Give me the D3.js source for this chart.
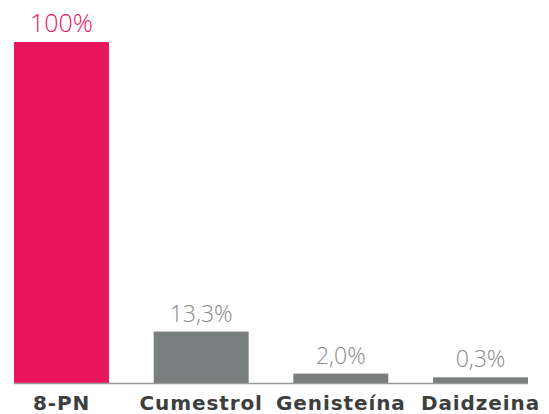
<!DOCTYPE html>
<html>
<head>
<meta charset="utf-8">
<script src="https://cdn.jsdelivr.net/npm/d3@7"></script>
<style>
  html, body { margin: 0; padding: 0; background: #ffffff; }
  svg { display: block; }
</style>
</head>
<body>
<svg id="chart" width="549" height="414"></svg>
<script>
// Categories shown under the bars
const categories = ["8-PN", "Cumestrol", "Genisteína", "Daidzeina"];
// Bar heights as drawn in the picture (relative to 8-PN = 100)
const barValues = [100, 15.2, 2.9, 1.8];
// Value labels printed above the bars
const valueLabels = ["100%", "13,3%", "2,0%", "0,3%"];
// Colours per bar
const barColors = ["#e8175d", "#7b7e7e", "#7b7e7e", "#7b7e7e"];
const labelColors = ["#e8175d", "#8a8a8a", "#8a8a8a", "#8a8a8a"];

const svg = d3.select("#chart");
const baseY = 383.5;

const x = d3.scaleBand()
  .domain(categories)
  .range([14, 528])
  .paddingInner(0.32)
  .paddingOuter(0);

const y = d3.scaleLinear()
  .domain([0, 100])
  .range([baseY, 42]);

// bars
svg.selectAll("rect.bar")
  .data(categories)
  .join("rect")
  .attr("class", "bar")
  .attr("x", d => x(d))
  .attr("width", x.bandwidth())
  .attr("y", (d, i) => y(barValues[i]))
  .attr("height", (d, i) => baseY - y(barValues[i]))
  .attr("fill", (d, i) => barColors[i]);

// baseline
svg.append("line")
  .attr("x1", x.range()[0])
  .attr("x2", x.range()[1])
  .attr("y1", baseY)
  .attr("y2", baseY)
  .attr("stroke", "#9a9a9a")
  .attr("stroke-width", 1.6);

// value labels
svg.selectAll("text.val")
  .data(categories)
  .join("text")
  .attr("class", "val")
  .attr("x", d => x(d) + x.bandwidth() / 2)
  .attr("y", (d, i) => y(barValues[i]) - 10)
  .attr("text-anchor", "middle")
  .attr("font-family", "'Open Sans', sans-serif")
  .attr("font-weight", 300)
  .attr("font-size", (d, i) => i === 0 ? 25 : 23)
  .attr("fill", (d, i) => labelColors[i])
  .text((d, i) => valueLabels[i]);

// category labels
svg.selectAll("text.cat")
  .data(categories)
  .join("text")
  .attr("class", "cat")
  .attr("x", d => x(d) + x.bandwidth() / 2)
  .attr("y", 410)
  .attr("text-anchor", "middle")
  .attr("font-family", "'DejaVu Sans', sans-serif")
  .attr("font-weight", 700)
  .attr("font-size", 20)
  .attr("letter-spacing", 0.9)
  .attr("fill", "#3d3e3e")
  .text(d => d);
</script>
</body>
</html>
